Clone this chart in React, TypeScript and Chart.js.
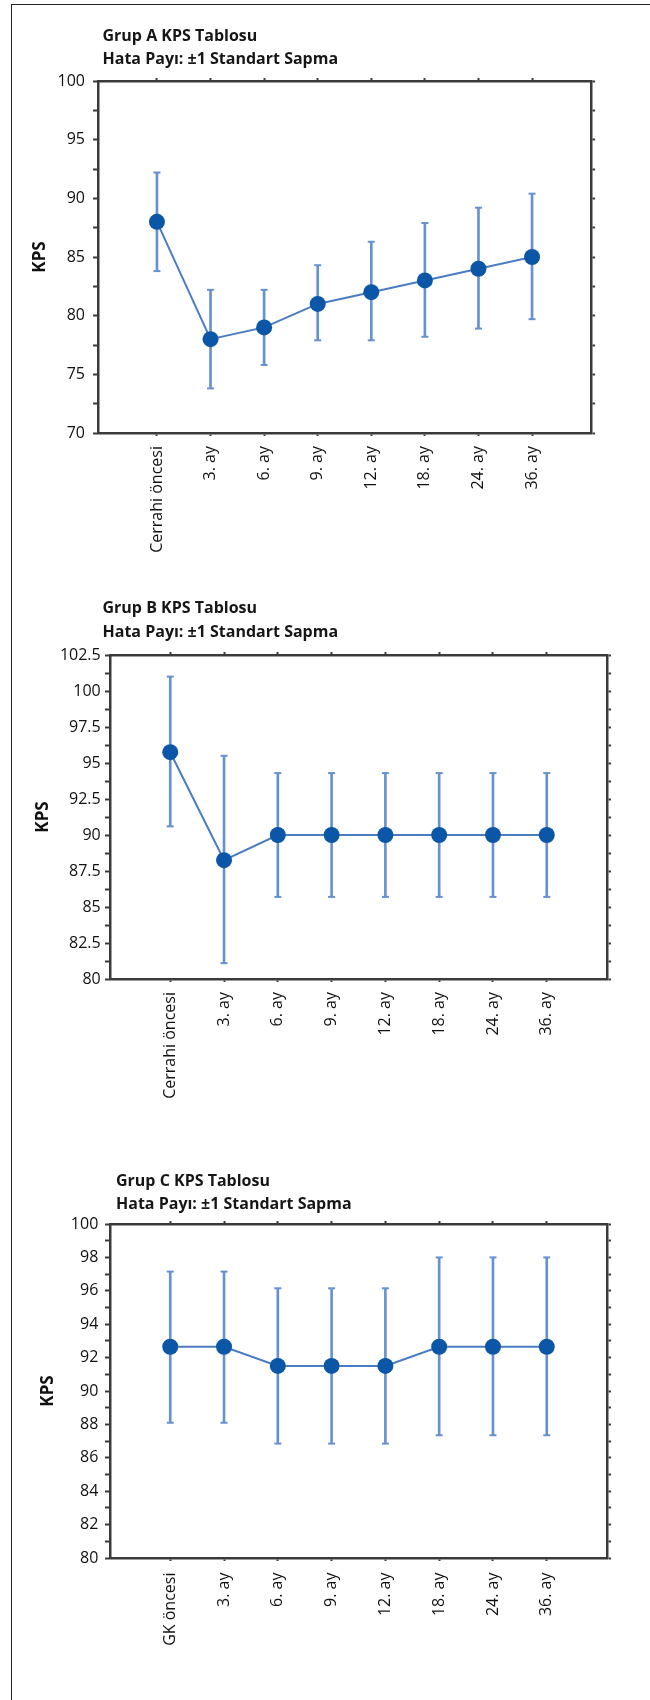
import React, { useEffect, useRef } from 'react';
import { Chart, registerables } from 'chart.js';

Chart.register(...registerables);

// ---------- data ----------
const categoriesAB = ['Cerrahi öncesi', '3. ay', '6. ay', '9. ay', '12. ay', '18. ay', '24. ay', '36. ay'];
const categoriesC = ['GK öncesi', '3. ay', '6. ay', '9. ay', '12. ay', '18. ay', '24. ay', '36. ay'];

const meanA = [88, 78, 79, 81, 82, 83, 84, 85];
const upperA = [92.2, 82.2, 82.2, 84.3, 86.3, 87.9, 89.2, 90.4];
const lowerA = [83.8, 73.8, 75.8, 77.9, 77.9, 78.2, 78.9, 79.7];
const yTicksA = [70, 75, 80, 85, 90, 95, 100];

const meanB = [95.75, 88.25, 90, 90, 90, 90, 90, 90];
const upperB = [101, 95.5, 94.3, 94.3, 94.3, 94.3, 94.3, 94.3];
const lowerB = [90.6, 81.1, 85.7, 85.7, 85.7, 85.7, 85.7, 85.7];
const yTicksB = [80, 82.5, 85, 87.5, 90, 92.5, 95, 97.5, 100, 102.5];

const meanC = [92.65, 92.65, 91.5, 91.5, 91.5, 92.65, 92.65, 92.65];
const upperC = [97.15, 97.15, 96.15, 96.15, 96.15, 98, 98, 98];
const lowerC = [88.1, 88.1, 86.85, 86.85, 86.85, 87.35, 87.35, 87.35];
const yTicksC = [80, 82, 84, 86, 88, 90, 92, 94, 96, 98, 100];

const subtitleText = 'Hata Payı: ±1 Standart Sapma';
const yTitleText = 'KPS';

// ---------- layout (positions only) ----------
type Layout = {
  top: number; height: number; left: number; right: number;
  plotTop: number; plotBottom: number;
  titleX: number; titleY: number; subY: number;
  kpsX: number; yPad: number; xPad: number; xMin: number; xMax: number;
};

const layoutA: Layout = { top: 0, height: 580, left: 98, right: 591, plotTop: 81, plotBottom: 433, titleX: 102.5, titleY: 40.7, subY: 64, kpsX: 40, yPad: 8, xPad: 10, xMin: -1.1, xMax: 8.1 };
const layoutB: Layout = { top: 580, height: 570, left: 110, right: 607, plotTop: 75, plotBottom: 399, titleX: 102.5, titleY: 33.3, subY: 57.3, kpsX: 43.6, yPad: 4.3, xPad: 10, xMin: -1.12, xMax: 8.12 };
const layoutC: Layout = { top: 1150, height: 550, left: 110, right: 607, plotTop: 74, plotBottom: 408, titleX: 116, titleY: 36, subY: 58.7, kpsX: 48.5, yPad: 6.7, xPad: 11.5, xMin: -1.12, xMax: 8.12 };

const FONT = "'Open Sans', 'DejaVu Sans', sans-serif";
const AX = '#3a3a3a';
const PT = '#0b56a6';
const LINE = '#4a7cc4';
const ERR = '#6691d2';

type Props = {
  layout: Layout; title: string; categories: string[];
  mean: number[]; upper: number[]; lower: number[]; yTicks: number[];
};

function KpsChart({ layout, title, categories, mean, upper, lower, yTicks }: Props) {
  const ref = useRef<HTMLCanvasElement>(null);
  useEffect(() => {
    const canvas = ref.current;
    if (!canvas) return;
    const yMin = yTicks[0];
    const yMax = yTicks[yTicks.length - 1];
    const isMajor = (v: number) => yTicks.some((t) => Math.abs(t - v) < 1e-6);
    const yTickBuild = (s: any) => {
      const arr: any[] = [];
      for (let i = 0; i < yTicks.length; i++) {
        arr.push({ value: yTicks[i] });
        if (i < yTicks.length - 1) arr.push({ value: (yTicks[i] + yTicks[i + 1]) / 2 });
      }
      s.ticks = arr;
    };
    const xTickBuild = (s: any) => {
      s.ticks = categories.map((_, i) => ({ value: i }));
    };
    const titlePlugin = {
      id: 'groupTitle',
      afterDraw(chart: any) {
        const c = chart.ctx;
        c.save();
        c.font = `bold 16px ${FONT}`;
        c.fillStyle = '#161616';
        c.textAlign = 'left';
        c.textBaseline = 'alphabetic';
        c.fillText(title, layout.titleX, layout.titleY);
        c.fillText(subtitleText, layout.titleX, layout.subY);
        c.restore();
      },
    };
    const gridOpts = (len: number, w: number) => ({
      drawOnChartArea: false,
      drawTicks: true,
      offset: false,
      tickLength: len,
      tickWidth: w,
      tickColor: AX,
    });
    const borderOpts = { display: true, color: AX, width: 2.5 };

    const chart = new Chart(canvas, {
      type: 'line',
      data: {
        datasets: [
          {
            type: 'line',
            label: 'KPS',
            data: mean.map((v, i) => ({ x: i, y: v })),
            borderColor: LINE,
            borderWidth: 2,
            pointRadius: 8,
            pointBackgroundColor: PT,
            pointBorderColor: PT,
            pointBorderWidth: 0,
            order: 0,
          } as any,
          {
            type: 'bar',
            label: 'SD',
            data: mean.map((_, i) => ({ x: i, y: [lower[i], upper[i]] })),
            backgroundColor: ERR,
            barThickness: 2,
            borderWidth: 0,
            grouped: false,
            order: 2,
          } as any,
          {
            type: 'line',
            label: 'caps',
            data: [
              ...upper.map((v, i) => ({ x: i, y: v })),
              ...lower.map((v, i) => ({ x: i, y: v })),
            ],
            showLine: false,
            pointStyle: 'line',
            pointRadius: 3.5,
            pointBorderColor: ERR,
            pointBorderWidth: 2,
            order: 1,
          } as any,
        ],
      },
      options: {
        responsive: false,
        animation: false,
        events: [],
        layout: { padding: { top: layout.plotTop - 4, left: 0, right: 0, bottom: 0 } },
        plugins: { legend: { display: false }, tooltip: { enabled: false }, title: { display: false } },
        scales: {
          x: {
            type: 'linear',
            position: 'bottom',
            offset: false,
            min: layout.xMin,
            max: layout.xMax,
            afterBuildTicks: xTickBuild,
            afterFit: (s: any) => { s.height = layout.height - layout.plotBottom; },
            grid: gridOpts(3, 2),
            border: borderOpts,
            ticks: {
              autoSkip: false,
              minRotation: 90,
              maxRotation: 90,
              padding: layout.xPad,
              color: '#111',
              font: { family: FONT, size: 16 },
              callback: (v: any) => categories[v] ?? '',
            },
          },
          xTop: {
            type: 'linear',
            position: 'top',
            offset: false,
            min: layout.xMin,
            max: layout.xMax,
            afterBuildTicks: xTickBuild,
            afterFit: (s: any) => { s.height = 4; },
            grid: gridOpts(3, 2),
            border: borderOpts,
            ticks: { display: false },
          },
          y: {
            type: 'linear',
            position: 'left',
            min: yMin,
            max: yMax,
            afterBuildTicks: yTickBuild,
            afterFit: (s: any) => { s.width = layout.left; },
            grid: gridOpts(5, 2),
            border: borderOpts,
            title: {
              display: true,
              text: yTitleText,
              color: '#111',
              font: { family: FONT, size: 17, weight: 'bold' },
              padding: { top: layout.kpsX - 10.2, bottom: 0 },
            },
            ticks: {
              autoSkip: false,
              padding: layout.yPad,
              color: '#111',
              font: { family: FONT, size: 16 },
              callback: (v: any) => (isMajor(Number(v)) ? String(v) : ''),
            },
          },
          yRight: {
            type: 'linear',
            position: 'right',
            min: yMin,
            max: yMax,
            afterBuildTicks: yTickBuild,
            afterFit: (s: any) => { s.width = 650 - layout.right; },
            grid: gridOpts(4, 2),
            border: borderOpts,
            ticks: { display: false },
          },
        },
      } as any,
      plugins: [titlePlugin],
    });
    return () => chart.destroy();
  }, []);
  return (
    <canvas
      ref={ref}
      width={650}
      height={layout.height}
      style={{ position: 'absolute', left: 0, top: layout.top, width: 650, height: layout.height }}
    />
  );
}

export default function App() {
  return (
    <div style={{ position: 'absolute', left: 0, top: 0, width: 650, height: 1700, overflow: 'hidden', background: '#fff' }}>
      <div style={{ position: 'absolute', left: 11, top: 4, width: 700, height: 1800, border: '1.5px solid #222', boxSizing: 'border-box' }} />
      <KpsChart layout={layoutA} title="Grup A KPS Tablosu" categories={categoriesAB} mean={meanA} upper={upperA} lower={lowerA} yTicks={yTicksA} />
      <KpsChart layout={layoutB} title="Grup B KPS Tablosu" categories={categoriesAB} mean={meanB} upper={upperB} lower={lowerB} yTicks={yTicksB} />
      <KpsChart layout={layoutC} title="Grup C KPS Tablosu" categories={categoriesC} mean={meanC} upper={upperC} lower={lowerC} yTicks={yTicksC} />
    </div>
  );
}
